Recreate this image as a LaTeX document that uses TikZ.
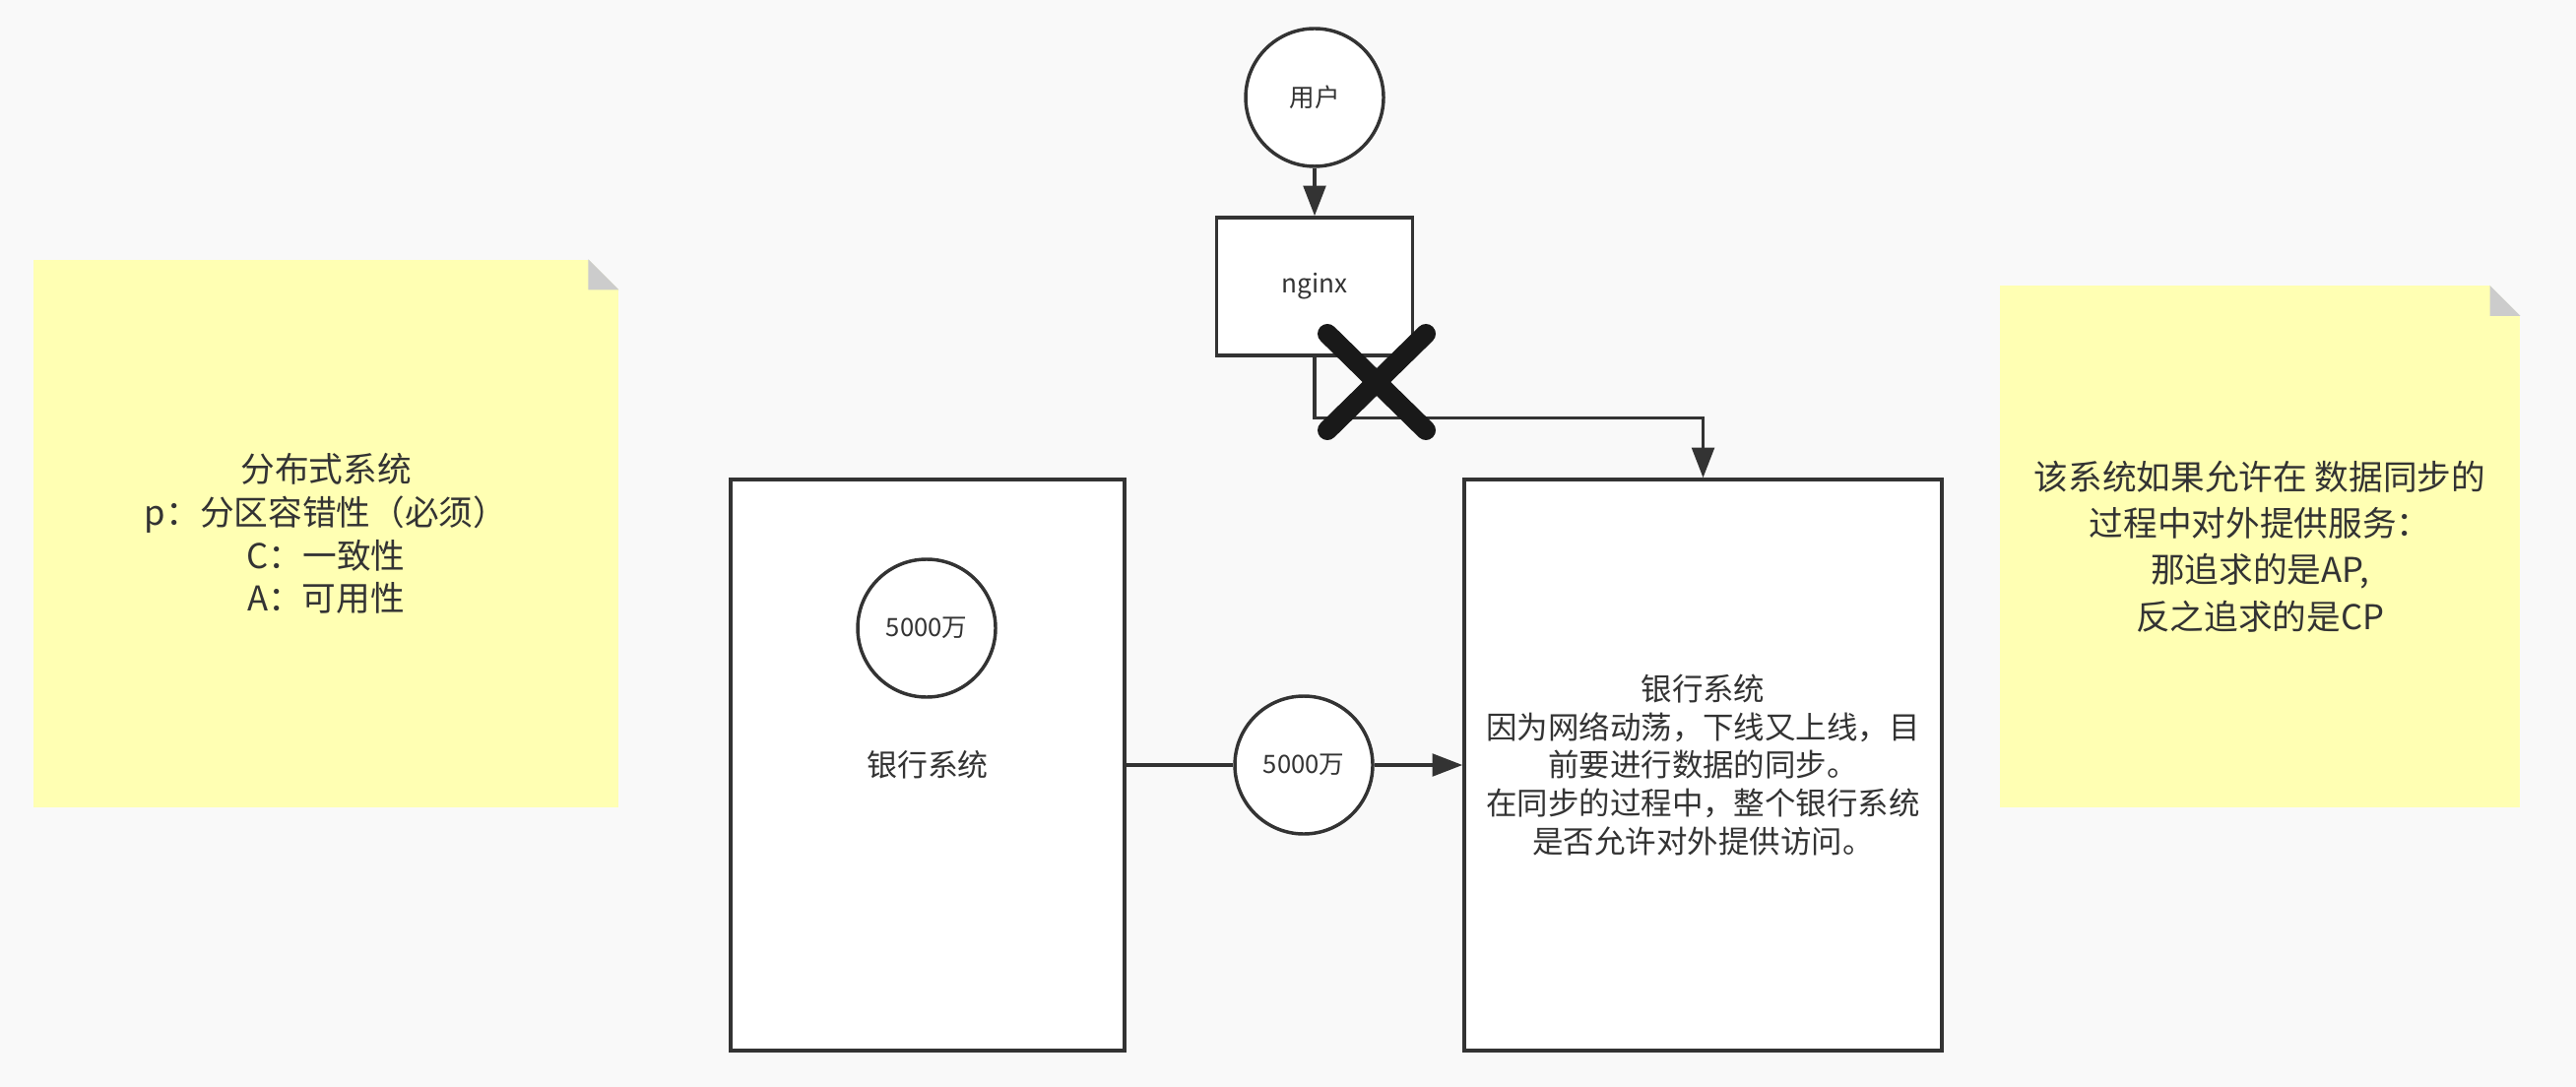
\documentclass[tikz,border=0pt]{standalone}
\usepackage{fontspec}
\setmainfont{Noto Sans CJK SC}
\usepackage{tikz}
\usetikzlibrary{calc,arrows.meta,positioning}
\definecolor{ink}{HTML}{333333}
\definecolor{paper}{HTML}{F9F9F9}
\definecolor{notebg}{HTML}{FFFFB3}
\definecolor{foldgray}{HTML}{CCCCCC}

\begin{document}
\begin{tikzpicture}[
  x=0.375pt, y=-0.375pt,
  box/.style={rectangle, draw=ink, line width=1.3pt, fill=white, text=ink, inner sep=0pt, align=center},
  disk/.style={circle, draw=ink, line width=1.3pt, fill=white, text=ink, minimum size=52.5pt, inner sep=0pt, font=\fontsize{9.6}{11}\selectfont},
  note/.style={rectangle, fill=notebg, text=ink, align=center, inner sep=0pt, font=\fontsize{13}{16.4}\selectfont},
  link/.style={draw=ink, line width=1.3pt},
  cross/.style={draw=black!90, line width=7.5pt, line cap=round},
  >={Triangle[length=11.5pt,width=8.5pt]}
]
  \useasboundingbox[fill=paper] (0,0) rectangle (2616,1104);

  % sticky notes
  \node[note, minimum width=222.7pt, minimum height=208.5pt] (capnote) at (331, 542)
    {分布式系统\\p：分区容错性（必须）\\C：一致性\\A：可用性};
  \node[note, minimum width=198pt, minimum height=198.4pt, font=\fontsize{13}{17.8}\selectfont] (apnote) at (2295, 555)
    {该系统如果允许在 数据同步的\\过程中对外提供服务：\\那追求的是AP,\\反之追求的是CP};
  \foreach \n in {capnote, apnote} {
    \fill[paper] (\n.north east) -- ++(-31,0) -- ++(31,31) -- cycle;
    \fill[foldgray] ($(\n.north east)+(-31,0)$) -- ++(0,31) -- ++(31,0) -- cycle;
  }

  % user and proxy
  \node[disk] (user) at (1335, 99) {用户};
  \node[box, minimum width=74.6pt, minimum height=52.5pt, font=\fontsize{9.8}{11}\selectfont] (nginx) at (1335, 291) {nginx};

  % the two bank systems
  \node[box, minimum width=150pt, minimum height=217.5pt, font=\fontsize{11.6}{14}\selectfont] (oldbank) at (942, 777) {银行系统};
  \node[box, minimum width=181.9pt, minimum height=217.5pt, font=\fontsize{11.8}{14.6}\selectfont] (newbank) at (1729.5, 777)
    {银行系统\\因为网络动荡，下线又上线，目\\前要进行数据的同步。\\在同步的过程中，整个银行系统\\是否允许对外提供访问。};
  \node[disk] (stock) at (941, 638) {5000万};
  \node[disk] (transfer) at (1324, 777) {5000万};

  % connectors
  \draw[link, ->] (user) -- (nginx);
  \draw[link, ->] (nginx.south) -- ++(0,62) -| (newbank.north);
  \draw[link] (oldbank.east) -- (transfer);
  \draw[link, ->] (transfer) -- (newbank.west);

  % broken link
  \coordinate (cut) at (1398, 388);
  \draw[cross] ($(cut)+(-50,-49)$) -- ($(cut)+(50,49)$);
  \draw[cross] ($(cut)+(-50,49)$) -- ($(cut)+(50,-49)$);
\end{tikzpicture}
\end{document}
